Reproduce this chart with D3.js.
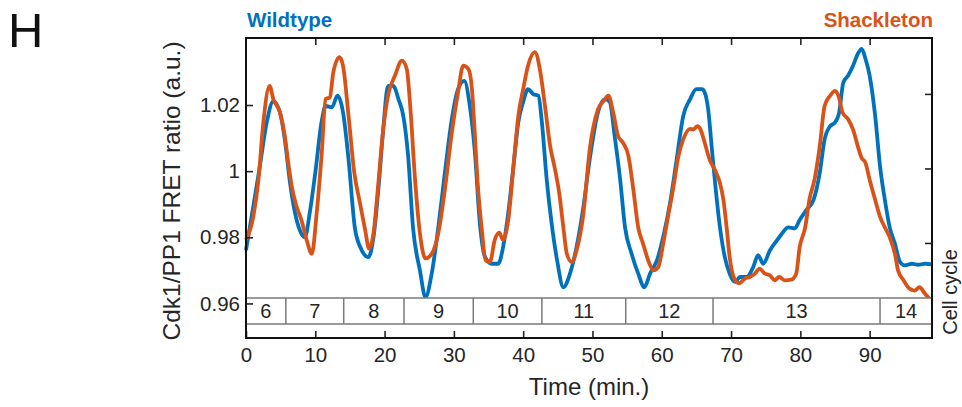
<!DOCTYPE html>
<html>
<head>
<meta charset="utf-8">
<script src="https://cdn.jsdelivr.net/npm/d3@7"></script>
<style>
  body { margin: 0; background: #fff; }
  svg { font-family: "Liberation Sans", Arial, sans-serif; }
</style>
</head>
<body>
<div id="chart"></div>
<script>
// Wildtype trace (time in min, FRET ratio)
const wtTime = [0, 1.05, 2.0, 3.0, 3.94, 4.9, 5.6, 6.35, 7.07, 7.8, 8.5, 9.2, 10.0, 10.9, 11.5, 12.4, 13.2, 14.0, 14.8, 15.7,
  16.5, 17.65, 18.4, 19.1, 19.8, 20.5, 21.25, 22.0, 22.7, 23.4, 24.1, 25.1, 25.9, 26.8, 27.75, 28.7, 29.7, 30.6, 31.5, 32.3,
  33.0, 33.8, 34.5, 35.5, 36.4, 37.1, 37.85, 38.6, 39.3, 40.0, 40.7, 41.45, 42.2, 42.7, 43.4, 44.1, 44.9, 45.8, 46.75, 47.7,
  48.7, 49.6, 50.8, 51.8, 52.5, 53.2, 54.0, 54.7, 55.65, 56.6, 57.5, 58.3, 59.3, 60.2, 61.2, 62.15, 63.1, 64.1, 65.0, 65.8,
  66.2, 66.7, 67.2, 67.7, 68.4, 69.1, 69.8, 70.6, 71.3, 72.25, 73.2, 73.9, 74.65, 75.6, 76.6, 77.3, 78.25, 79.2, 79.9, 80.9,
  81.9, 82.8, 83.5, 84.3, 85.0, 85.6, 86.2, 86.9, 87.6, 88.3, 88.85, 89.4, 90.0, 90.8, 91.5, 92.2, 92.9, 93.65, 94.4, 95.1,
  96.1, 97.0, 98.0, 99.0];
const wtRatio = [0.9761, 0.9893, 1.0015, 1.0148, 1.0212, 1.0178, 1.0096, 0.9965, 0.9874, 0.982, 0.980, 0.9874, 0.9995, 1.0148, 1.0197, 1.0193, 1.0228, 1.0178, 1.0035, 0.983,
  0.977, 0.974, 0.980, 0.9944, 1.0126, 1.0258, 1.0258, 1.0218, 1.0167, 1.0045, 0.983, 0.970, 0.9619, 0.969, 0.983, 0.9995, 1.0157, 1.0248, 1.0273, 1.0197,
  1.0065, 0.983, 0.974, 0.972, 0.972, 0.977, 0.9874, 1.0015, 1.0148, 1.0209, 1.0248, 1.0233, 1.0228, 1.0148, 0.9974, 0.9843, 0.973, 0.9649, 0.969, 0.977,
  0.9893, 1.0035, 1.0178, 1.0218, 1.0209, 1.0106, 0.9974, 0.983, 0.975, 0.969, 0.9649, 0.969, 0.973, 0.980, 0.9904, 1.0035, 1.0167, 1.0218, 1.0248, 1.0248,
  1.0238, 1.0187, 1.0075, 0.9964, 0.983, 0.974, 0.969, 0.9665, 0.968, 0.968, 0.971, 0.9746, 0.972, 0.976, 0.979, 0.981, 0.983, 0.9827, 0.9852, 0.9883,
  0.9913, 0.9995, 1.0096, 1.0136, 1.0147, 1.0177, 1.0268, 1.0289, 1.0319, 1.0355, 1.037, 1.034, 1.0289, 1.0167, 1.0015, 0.9913, 0.983, 0.978, 0.9725, 0.9715,
  0.972, 0.9717, 0.972, 0.9718];

// Shackleton trace
const shTime = [0, 1.05, 1.8, 2.5, 3.4, 3.94, 4.9, 5.6, 6.1, 6.6, 7.3, 8.0, 8.75, 9.5, 10.2, 10.9, 11.5, 12.1, 12.6, 13.5,
  14.0, 14.8, 15.6, 16.45, 17.2, 17.75, 18.4, 19.1, 19.8, 20.5, 21.5, 22.5, 23.2, 23.7, 24.4, 25.1, 25.9, 26.8, 27.75, 28.7,
  29.7, 30.6, 31.35, 32.1, 32.6, 33.0, 33.4, 34.0, 34.6, 35.2, 35.9, 36.55, 37.1, 37.85, 38.6, 39.3, 40.0, 40.7, 41.7, 42.4,
  43.15, 43.9, 44.6, 45.2, 45.8, 46.3, 47.0, 47.7, 48.7, 49.6, 50.8, 51.6, 52.3, 53.0, 53.7, 54.4, 55.2, 55.9, 56.6, 57.3,
  58.05, 58.8, 59.5, 60.2, 60.9, 61.7, 62.4, 63.1, 64.1, 64.55, 65.15, 65.5, 66.2, 66.9, 67.65, 68.4, 68.9, 69.4, 69.8, 70.6,
  71.2, 72.0, 72.7, 73.45, 74.1, 74.9, 75.6, 76.3, 76.95, 77.75, 78.7, 79.4, 79.9, 80.7, 81.3, 82.1, 82.8, 83.5, 84.3, 85.0,
  85.5, 86.1, 86.9, 87.6, 88.3, 88.85, 89.4, 90.0, 90.8, 91.5, 92.2, 92.9, 93.65, 94.1, 94.9, 95.8, 96.5, 97.2, 98.0, 99.0];
const shRatio = [0.9792, 0.9862, 0.9974, 1.0147, 1.0258, 1.0218, 1.0177, 1.0106, 1.0025, 0.9954, 0.9893, 0.9852, 0.9792, 0.975, 0.9873, 1.0045, 1.0218, 1.0223, 1.0299, 1.0345,
  1.0319, 1.0167, 1.000, 0.9903, 0.9822, 0.9766, 0.9812, 0.9964, 1.0126, 1.0228, 1.0289, 1.0334, 1.0309, 1.0197, 0.9974, 0.9812, 0.9736, 0.975, 0.9812, 0.9944,
  1.0116, 1.0238, 1.0319, 1.0309, 1.025, 1.012, 0.9974, 0.983, 0.973, 0.9725, 0.9792, 0.9814, 0.9792, 0.9852, 1.0015, 1.0167, 1.0248, 1.0319, 1.036, 1.0309,
  1.0197, 1.0075, 1.0005, 0.9934, 0.983, 0.975, 0.9725, 0.976, 0.9873, 1.0065, 1.0187, 1.0212, 1.0228, 1.0177, 1.0106, 1.0086, 1.0045, 0.9944, 0.983, 0.9781,
  0.973, 0.970, 0.971, 0.978, 0.9862, 0.9954, 1.0045, 1.0096, 1.0128, 1.0126, 1.0136, 1.0130, 1.0086, 1.0035, 1.0005, 0.9964, 0.9913, 0.9822, 0.974, 0.967,
  0.9661, 0.9675, 0.968, 0.969, 0.9705, 0.969, 0.9685, 0.967, 0.968, 0.967, 0.9672, 0.969, 0.977, 0.983, 0.9913, 0.998, 1.0075, 1.0197, 1.0228, 1.0243,
  1.0228, 1.0177, 1.0157, 1.0126, 1.0075, 1.004, 1.0025, 0.9974, 0.9913, 0.9862, 0.983, 0.980, 0.975, 0.970, 0.967, 0.9644, 0.9639, 0.9649, 0.9629, 0.9605];

// Cell cycle bar
const cycleLabels = ["6", "7", "8", "9", "10", "11", "12", "13", "14"];
const cycleBounds = [0, 5.75, 14.1, 22.8, 32.8, 42.7, 54.8, 67.4, 91.5, 99];

// Axes ticks
const xTicks = [0, 10, 20, 30, 40, 50, 60, 70, 80, 90];
const yTicks = [0.96, 0.98, 1, 1.02];
const cycleTicks = [1, 2, 3];

const blue = "#0072BD";
const orange = "#D95319";
const ink = "#262626";

const margin = { top: 38, right: 30, bottom: 69, left: 246 };
const fullW = 962, fullH = 407;
const width = fullW - margin.left - margin.right;
const height = fullH - margin.top - margin.bottom;

const svg = d3.select("#chart")
  .append("svg")
  .attr("width", fullW)
  .attr("height", fullH);

// panel letter
svg.append("text")
  .attr("x", 8)
  .attr("y", 47)
  .style("font-size", "49px")
  .style("fill", "#111")
  .text("H");

const g = svg.append("g")
  .attr("transform", `translate(${margin.left},${margin.top})`);

const x = d3.scaleLinear().domain([0, 99]).range([0, width]);
const y = d3.scaleLinear().domain([0.94955, 1.04026]).range([height, 0]);
const y2 = d3.scaleLinear().domain([-0.275, 3.75]).range([height, 0]);

// lines
const wtData = wtTime.map((t, i) => ({ t, v: wtRatio[i] }));
const shData = shTime.map((t, i) => ({ t, v: shRatio[i] }));

const line = d3.line()
  .x(d => x(d.t))
  .y(d => y(d.v))
  .curve(d3.curveMonotoneX);

g.append("path")
  .datum(wtData)
  .attr("fill", "none")
  .attr("stroke", blue)
  .attr("stroke-width", 3.8)
  .attr("stroke-linejoin", "round")
  .attr("d", line);

g.append("path")
  .datum(shData)
  .attr("fill", "none")
  .attr("stroke", orange)
  .attr("stroke-width", 3.8)
  .attr("stroke-linejoin", "round")
  .attr("d", line);

// cell cycle bar
const barTop = 260, barBot = 286;
const bar = g.append("g");
bar.append("rect")
  .attr("x", 0).attr("y", barTop)
  .attr("width", width).attr("height", barBot - barTop)
  .attr("fill", "#fff")
  .attr("stroke", "#7a7a7a")
  .attr("stroke-width", 1.5);
bar.selectAll("line.cb")
  .data(cycleBounds.slice(1, -1))
  .enter()
  .append("line")
  .attr("x1", d => x(d)).attr("x2", d => x(d))
  .attr("y1", barTop).attr("y2", barBot)
  .attr("stroke", "#7a7a7a")
  .attr("stroke-width", 1.5);
bar.selectAll("text")
  .data(cycleLabels)
  .enter()
  .append("text")
  .attr("x", (d, i) => x((cycleBounds[i] + cycleBounds[i + 1]) / 2))
  .attr("y", (barTop + barBot) / 2)
  .attr("dy", "0.36em")
  .attr("text-anchor", "middle")
  .style("font-size", "20px")
  .style("fill", ink)
  .text(d => d);

// axes (ticks inward)
function styleAxis(sel) {
  sel.select(".domain").remove();
  sel.selectAll(".tick line").attr("stroke", ink).attr("stroke-width", 1.6);
  sel.selectAll(".tick text").style("font-size", "20.5px").style("fill", ink)
    .style("font-family", "'Liberation Sans', Arial, sans-serif");
}

g.append("g")
  .attr("transform", `translate(0,${height})`)
  .call(d3.axisBottom(x).tickValues(xTicks).tickSize(-7).tickPadding(9).tickFormat(d3.format("d")))
  .call(styleAxis);

g.append("g")
  .call(d3.axisTop(x).tickValues(xTicks.slice(1)).tickSize(-7).tickFormat(""))
  .call(styleAxis);

g.append("g")
  .call(d3.axisLeft(y).tickValues(yTicks).tickSize(-7).tickPadding(6)
    .tickFormat(d => d === 1 ? "1" : d3.format(".2f")(d)))
  .call(styleAxis);

g.append("g")
  .attr("transform", `translate(${width},0)`)
  .call(d3.axisRight(y2).tickValues(cycleTicks).tickSize(-7).tickFormat(""))
  .call(styleAxis);

// frame
g.append("path")
  .attr("d", `M0,0V${height}H${width}V0H0Z`)
  .attr("fill", "none")
  .attr("stroke", "#111")
  .attr("stroke-width", 2);

// titles
svg.append("text")
  .attr("x", margin.left + 1)
  .attr("y", 27)
  .style("font-size", "20.5px")
  .style("font-weight", "bold")
  .style("fill", blue)
  .text("Wildtype");

svg.append("text")
  .attr("x", margin.left + width + 1)
  .attr("y", 27)
  .attr("text-anchor", "end")
  .style("font-size", "20.5px")
  .style("font-weight", "bold")
  .style("fill", orange)
  .text("Shackleton");

// axis labels
svg.append("text")
  .attr("text-anchor", "middle")
  .attr("x", margin.left + width / 2)
  .attr("y", 395)
  .style("font-size", "24px")
  .style("fill", ink)
  .text("Time (min.)");

svg.append("text")
  .attr("text-anchor", "middle")
  .attr("transform", `translate(180, ${margin.top + 153}) rotate(-90)`)
  .style("font-size", "24.5px")
  .style("fill", ink)
  .text("Cdk1/PP1 FRET ratio (a.u.)");

svg.append("text")
  .attr("text-anchor", "middle")
  .attr("transform", "translate(957, 292) rotate(-90)")
  .style("font-size", "20px")
  .style("fill", ink)
  .text("Cell cycle");
</script>
</body>
</html>
